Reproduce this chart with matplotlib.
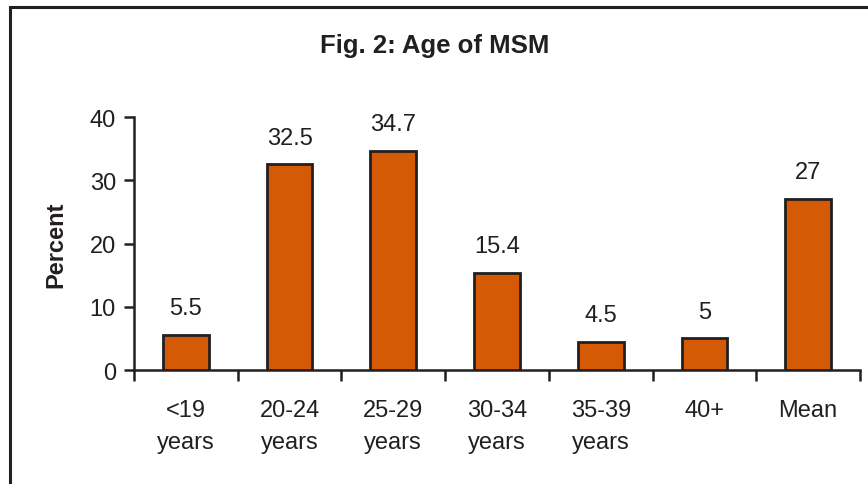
import matplotlib
matplotlib.use('Agg')
import matplotlib.pyplot as plt
from matplotlib.patches import Rectangle
import numpy as np

# data
categories = ['<19\nyears', '20-24\nyears', '25-29\nyears', '30-34\nyears',
              '35-39\nyears', '40+', 'Mean']
values = [5.5, 32.5, 34.7, 15.4, 4.5, 5, 27]
value_labels = ['5.5', '32.5', '34.7', '15.4', '4.5', '5', '27']
yticks = [0, 10, 20, 30, 40]

bar_color = '#D45A06'
edge_color = '#231F20'

plt.rcParams['font.family'] = ['Liberation Sans', 'DejaVu Sans']

fig = plt.figure(figsize=(8.68, 4.85), dpi=100)
ax = fig.add_axes([0.1544, 0.235, 0.8364, 0.5217])

# frame round the figure (only left and top edges visible)
fig.patches.append(Rectangle((10 / 868, -0.1), 1.2, 1 - 8 / 485 + 0.1,
                             transform=fig.transFigure, fill=False,
                             edgecolor=edge_color, linewidth=2.2))

x = np.arange(len(categories))
ax.bar(x, values, width=0.44, color=bar_color, edgecolor=edge_color,
       linewidth=2, zorder=3)
for xi, v, lab in zip(x, values, value_labels):
    ax.text(xi, v + 2.5, lab, ha='center', va='bottom', fontsize=17,
            color=edge_color)

ax.set_xlim(-0.5, len(categories) - 0.5)
ax.set_ylim(0, 40)
ax.set_yticks(yticks)
ax.set_yticklabels([str(t) for t in yticks], fontsize=17, color=edge_color)
ax.tick_params(axis='y', direction='out', length=7, width=1.8,
               color=edge_color, pad=6)

# ticks between categories, labels at centres
ax.set_xticks(np.arange(len(categories) + 1) - 0.5)
ax.set_xticklabels([])
ax.set_xticks(x, minor=True)
ax.set_xticklabels(categories, minor=True, fontsize=17, color=edge_color,
                   linespacing=1.6)
ax.tick_params(axis='x', which='major', direction='out', length=8,
               width=1.8, color=edge_color)
ax.tick_params(axis='x', which='minor', length=0, pad=21)

for s in ['top', 'right']:
    ax.spines[s].set_visible(False)
for s in ['left', 'bottom']:
    ax.spines[s].set_linewidth(1.8)
    ax.spines[s].set_color(edge_color)

ax.set_ylabel('Percent', fontsize=17, fontweight='bold', color=edge_color,
              labelpad=16)
fig.text(0.501, 0.905, 'Fig. 2: Age of MSM', ha='center', va='center',
         fontsize=18.5, fontweight='bold', color=edge_color)

fig.savefig('out.png', dpi=100)
